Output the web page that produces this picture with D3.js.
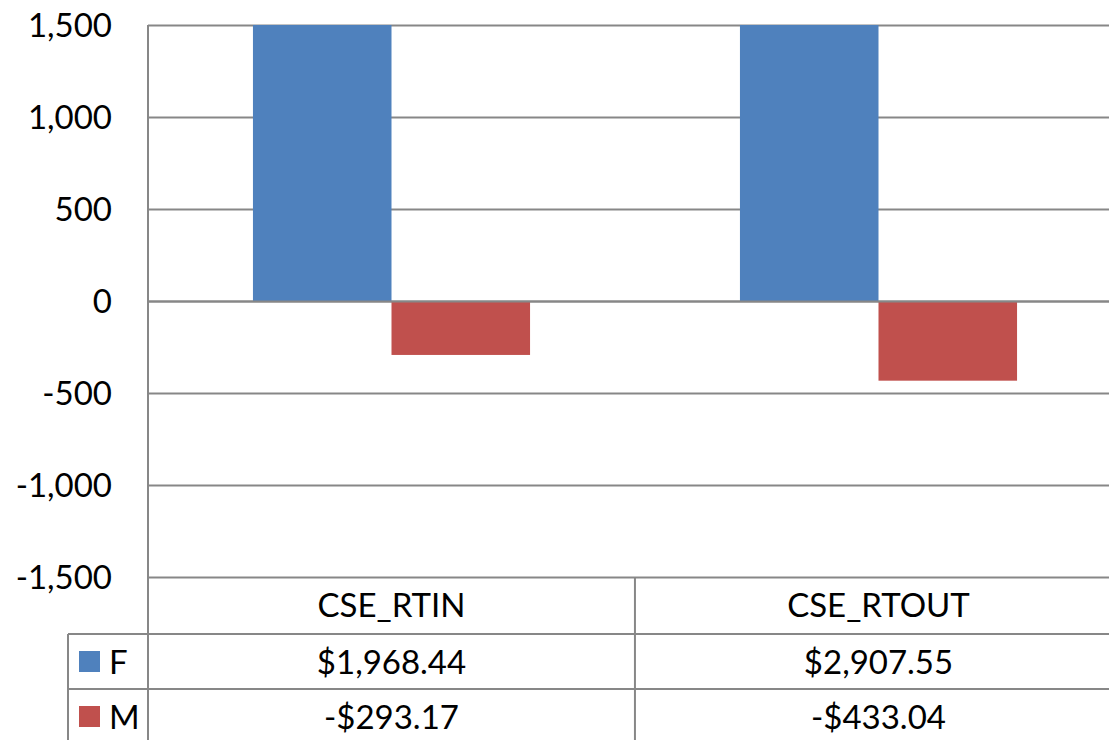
<!DOCTYPE html>
<html>
<head>
<meta charset="utf-8">
<script src="https://cdn.jsdelivr.net/npm/d3@7"></script>
<style>
  body { margin: 0; background: #fff; }
  text { font-family: Lato, "Open Sans", sans-serif; fill: #000; }
</style>
</head>
<body>
<div id="chart"></div>
<script>
const categories = ["CSE_RTIN", "CSE_RTOUT"]
const seriesNames = ["F", "M"]
const valuesF = [1968.44, 2907.55]
const valuesM = [-293.17, -433.04]
const yTicks = [-1500, -1000, -500, 0, 500, 1000, 1500]
const colors = ["#4F81BD", "#C0504D"]

const width = 1109
const height = 740
const plotLeft = 148, plotTop = 25, plotBottom = 577

const svg = d3.select("#chart").append("svg")
    .attr("width", width)
    .attr("height", height)

const y = d3.scaleLinear().domain([-1500, 1500]).range([plotBottom, plotTop]).clamp(true)
const x = d3.scaleBand().domain(categories).range([plotLeft, plotLeft + 2 * 487])
    .paddingInner(0.431).paddingOuter(0.2155)
const xs = d3.scaleBand().domain(seriesNames).range([0, x.bandwidth()])

const grid = "#878787"

// gridlines + y labels
svg.append("g").selectAll("line").data(yTicks).enter().append("line")
    .attr("x1", plotLeft).attr("x2", width)
    .attr("y1", d => Math.round(y(d)) + 0.5).attr("y2", d => Math.round(y(d)) + 0.5)
    .attr("stroke", grid).attr("stroke-width", 2)

svg.append("g").selectAll("text").data(yTicks).enter().append("text")
    .attr("x", 112).attr("y", d => y(d))
    .attr("dy", "0.36em")
    .attr("text-anchor", "end")
    .style("font-size", "33px")
    .text(d => d3.format(",")(d).replace("−", "-"))

// bars
const rows = categories.map((c, i) => ({cat: c, vals: [valuesF[i], valuesM[i]]}))
const groups = svg.append("g").selectAll("g").data(rows).enter().append("g")
    .attr("transform", d => `translate(${x(d.cat)},0)`)
groups.selectAll("rect").data(d => d.vals.map((v, j) => ({v, j}))).enter().append("rect")
    .attr("x", d => xs(seriesNames[d.j]))
    .attr("width", xs.bandwidth())
    .attr("y", d => Math.min(y(d.v), y(0)))
    .attr("height", d => Math.abs(y(d.v) - y(0)))
    .attr("fill", d => colors[d.j])

// zero line on top of bars
svg.append("line")
    .attr("x1", plotLeft).attr("x2", width)
    .attr("y1", Math.round(y(0)) + 0.5).attr("y2", Math.round(y(0)) + 0.5)
    .attr("stroke", grid).attr("stroke-width", 2)

// data table
const tbl = svg.append("g")
const rowY = [plotBottom, plotBottom + 57, plotBottom + 112]
const legendLeft = 68
tbl.append("line").attr("x1", plotLeft).attr("x2", plotLeft).attr("y1", plotTop).attr("y2", height)
    .attr("stroke", grid).attr("stroke-width", 2)
tbl.append("line").attr("x1", legendLeft).attr("x2", legendLeft).attr("y1", rowY[1]).attr("y2", height)
    .attr("stroke", grid).attr("stroke-width", 2)
tbl.append("line").attr("x1", x(categories[1]) - 105).attr("x2", x(categories[1]) - 105)
    .attr("y1", rowY[0]).attr("y2", height)
    .attr("stroke", grid).attr("stroke-width", 2)
tbl.selectAll(".hrow").data([rowY[1], rowY[2]]).enter().append("line")
    .attr("x1", legendLeft).attr("x2", width)
    .attr("y1", d => d).attr("y2", d => d)
    .attr("stroke", grid).attr("stroke-width", 2)

const cx = c => x(c) + x.bandwidth() / 2
tbl.selectAll(".cat").data(categories).enter().append("text")
    .attr("x", cx).attr("y", rowY[0] + 28).attr("dy", "0.36em")
    .attr("text-anchor", "middle").style("font-size", "33px")
    .text(d => d)

const money = v => (v < 0 ? "-$" : "$") + d3.format(",.2f")(Math.abs(v))
const series = [valuesF, valuesM]
series.forEach((vals, s) => {
    const ry = rowY[s + 1]
    tbl.append("rect").attr("x", 79).attr("y", ry + 17).attr("width", 21).attr("height", 21)
        .attr("fill", colors[s])
    tbl.append("text").attr("x", 109).attr("y", ry + 28).attr("dy", "0.36em")
        .style("font-size", "33px").text(seriesNames[s])
    tbl.selectAll(".v" + s).data(vals).enter().append("text")
        .attr("x", (d, i) => cx(categories[i])).attr("y", ry + 28).attr("dy", "0.36em")
        .attr("text-anchor", "middle").style("font-size", "33px")
        .text(d => money(d))
})
</script>
</body>
</html>
